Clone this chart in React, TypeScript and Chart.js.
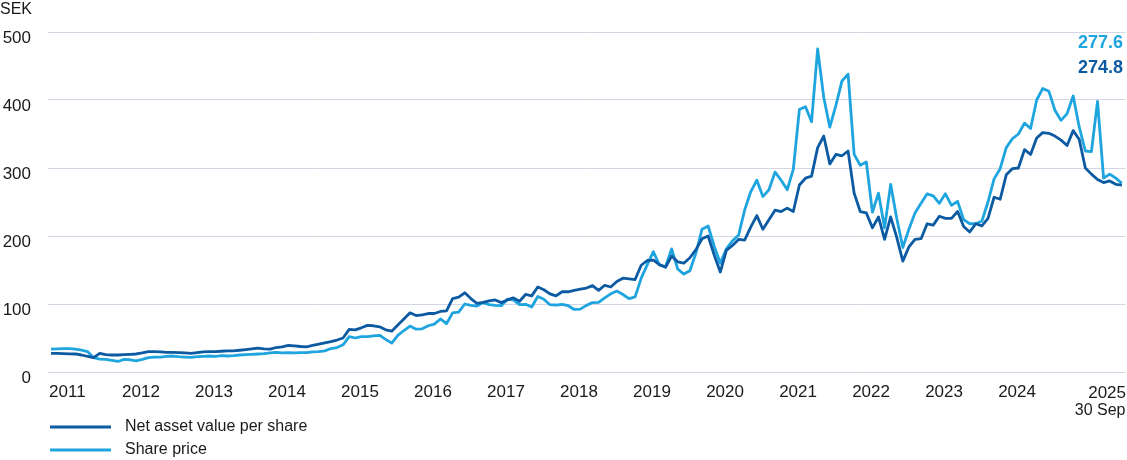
import React, { useEffect, useRef } from 'react';
import { Chart, registerables } from 'chart.js';

Chart.register(...registerables);

// Year tick labels (placed at each January, month index = k * 12)
const yearLabels = ['2011', '2012', '2013', '2014', '2015', '2016', '2017', '2018', '2019', '2020', '2021', '2022', '2023', '2024'];
const endLabel = ['2025', '30 Sep'];
const yTicks = [0, 100, 200, 300, 400, 500];
const unitLabel = 'SEK';
const seriesNames = ['Net asset value per share', 'Share price'];
const lastValues = ['274.8', '277.6'];

// Monthly values, Jan 2011 .. Sep 2025
const navPerShare = [
  27.5, 27.3, 27, 26.7, 26.5, 25, 23, 21, 27.5, 25.5,
  25, 25, 25.5, 26, 26.5, 28, 30, 30, 29.5, 29,
  29, 28.5, 28, 27.5, 28.5, 29.5, 30, 30, 30.5, 31,
  31, 32, 33, 34, 35, 34, 33.5, 36, 37, 39,
  38.5, 37.5, 37, 39, 41, 43, 44.6, 47, 50, 62.7,
  62, 65, 68.5, 68, 66.5, 62, 60, 69, 78, 87,
  83, 84, 86, 86, 89, 90, 108, 110, 116.5, 108,
  101, 102.5, 104.5, 106, 102, 106, 109, 104, 114, 112,
  125, 121, 115, 112, 118, 118, 120, 122, 123.5, 127,
  120, 127.5, 125, 133, 138, 137, 136, 157, 164, 164.5,
  158, 154, 170.6, 162, 160, 168, 180, 196, 200, 172,
  147, 179, 186, 195, 194, 213, 230, 210, 224, 238,
  236, 241, 236, 275, 285, 288, 330, 347, 306, 320,
  318, 325, 263, 236, 234, 212, 228, 195, 228, 198,
  163, 184, 195, 196, 218, 216, 229, 226, 226, 236,
  214, 206, 218, 215, 226, 257, 254, 290, 299, 300,
  327, 320, 344, 352, 351, 347, 341, 333, 355, 342,
  300, 291, 283, 278.5, 281, 276, 274.8,
];

const sharePrice = [
  33.5, 34, 34.5, 34.5, 33.5, 32, 30, 21, 19, 18.6,
  17, 15.5, 18.5, 18, 16.5, 18.5, 21, 22, 22, 23,
  23.5, 22.5, 22, 21.6, 22.5, 23, 23.5, 23, 24, 23.5,
  24, 25, 25.5, 26, 26.5, 27, 28, 29, 28, 28.5,
  28, 28.5, 28.5, 29.5, 30, 31, 34.5, 36, 40, 52,
  50, 52, 52, 53, 54, 48, 42.5, 54, 61, 67.5,
  63, 63.5, 68, 70.5, 78, 71, 87, 88, 100, 98,
  97, 102, 99, 98, 97.5, 107, 106, 99, 99.5, 95.5,
  111, 107, 99, 98.5, 99.5, 97.5, 92, 92.5, 98, 102,
  102.5, 109, 115, 119, 114, 108, 110.5, 138, 158, 177,
  157, 155, 181, 151.5, 144, 149, 175, 210, 214.7, 185,
  160, 181, 193, 201, 238, 265, 282, 258, 268, 294,
  282, 268, 298, 386, 390, 368, 475, 404, 360, 392,
  428, 438, 320, 304, 309, 235, 263, 212, 276, 226,
  183, 210, 234, 248, 262, 259, 248, 262, 245, 251,
  224, 218, 218, 222, 250, 284, 299, 330, 343, 350,
  366, 358, 400, 417, 413, 385, 370, 380, 406, 360,
  325, 324, 398, 285, 291, 285, 277.6,
];

const DARK = '#0b5aa2';
const LIGHT = '#1ea4df';
const TEXT = '#1a1a1a';
const GRID = '#d4d7e3';
const FONT = "'Liberation Sans', Arial, Helvetica, sans-serif";

const overlayPlugin = {
  id: 'overlay',
  afterDraw(chart: any) {
    const { ctx, chartArea } = chart;
    ctx.save();
    ctx.textBaseline = 'middle';

    // unit label
    ctx.fillStyle = TEXT;
    ctx.font = `16px ${FONT}`;
    ctx.textAlign = 'left';
    ctx.fillText(unitLabel, 0, 10);

    // last values
    ctx.font = `bold 18px ${FONT}`;
    ctx.textAlign = 'right';
    ctx.fillStyle = LIGHT;
    ctx.fillText(lastValues[1], 1123, 43);
    ctx.fillStyle = DARK;
    ctx.fillText(lastValues[0], 1123, 68);

    // end of x axis label
    ctx.font = `17px ${FONT}`;
    ctx.fillStyle = TEXT;
    ctx.textAlign = 'right';
    ctx.fillText(endLabel[0], chartArea.right + 0.5, 393);
    ctx.font = `16px ${FONT}`;
    ctx.fillText(endLabel[1], chartArea.right, 411);

    // legend
    const ds = chart.data.datasets;
    const rows = [427, 450];
    ds.forEach((d: any, k: number) => {
      const y = rows[k];
      ctx.strokeStyle = d.borderColor;
      ctx.lineWidth = 3;
      ctx.beginPath();
      ctx.moveTo(50, y);
      ctx.lineTo(111, y);
      ctx.stroke();
      ctx.fillStyle = TEXT;
      ctx.font = `16px ${FONT}`;
      ctx.textAlign = 'left';
      ctx.fillText(d.label, 125, y);
    });
    ctx.restore();
  },
};

export default function App() {
  const ref = useRef<HTMLCanvasElement | null>(null);

  useEffect(() => {
    if (!ref.current) return;
    const chart = new Chart(ref.current, {
      type: 'line',
      data: {
        datasets: [
          {
            label: seriesNames[0],
            data: navPerShare.map((v, i) => ({ x: i, y: v })),
            borderColor: DARK,
            backgroundColor: DARK,
            borderWidth: 2.8,
            pointRadius: 0,
            tension: 0,
            borderJoinStyle: 'round',
          },
          {
            label: seriesNames[1],
            data: sharePrice.map((v, i) => ({ x: i, y: v })),
            borderColor: LIGHT,
            backgroundColor: LIGHT,
            borderWidth: 2.8,
            pointRadius: 0,
            tension: 0,
            borderJoinStyle: 'round',
          },
        ],
      },
      options: {
        responsive: false,
        animation: false,
        layout: { padding: { top: 32, right: 1.5, left: 0, bottom: 0 } },
        font: { family: FONT },
        plugins: {
          legend: { display: false },
          tooltip: { enabled: false },
        },
        scales: {
          x: {
            type: 'linear',
            min: -0.5,
            max: 176.6,
            grid: { display: false, drawTicks: false },
            border: { display: false },
            afterBuildTicks: (s: any) => {
              s.ticks = yearLabels.map((_, k) => ({ value: k * 12 }));
            },
            afterFit: (s: any) => {
              s.height = 88;
            },
            ticks: {
              autoSkip: false,
              maxRotation: 0,
              minRotation: 0,
              align: 'start',
              labelOffset: -2,
              padding: 10,
              color: TEXT,
              font: { size: 17, family: FONT },
              callback: (_v: any, idx: number) => yearLabels[idx],
            },
          },
          y: {
            min: 0,
            max: 500,
            afterBuildTicks: (s: any) => {
              s.ticks = yTicks.map((v) => ({ value: v }));
            },
            afterFit: (s: any) => {
              s.width = 48;
            },
            grid: { color: GRID, drawTicks: false, lineWidth: 1 },
            border: { display: false },
            ticks: {
              padding: 17,
              labelOffset: 6,
              color: TEXT,
              font: { size: 17, family: FONT },
            },
          },
        },
      } as any,
      plugins: [overlayPlugin],
    });
    return () => chart.destroy();
  }, []);

  return (
    <div style={{ position: 'absolute', left: 0, top: 0, width: 1127, height: 460, background: '#fff' }}>
      <canvas ref={ref} width={1127} height={460} />
    </div>
  );
}
